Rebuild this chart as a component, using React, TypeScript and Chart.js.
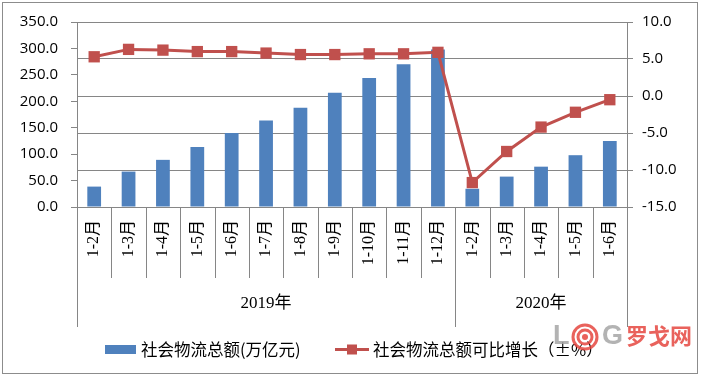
import React, { useEffect, useRef } from "react";
import { Chart, registerables } from "chart.js";

Chart.register(...registerables);

const categories = [
  "1-2月", "1-3月", "1-4月", "1-5月", "1-6月", "1-7月", "1-8月", "1-9月", "1-10月", "1-11月", "1-12月",
  "1-2月", "1-3月", "1-4月", "1-5月", "1-6月",
];
const yearLabels = ["2019年", "2020年"];
const yearCounts = [11, 5];
const totalValues = [38.6, 67.0, 89.2, 113.5, 140.1, 163.8, 188.0, 216.0, 244.0, 270.0, 298.0, 34.5, 57.5, 76.3, 98.0, 124.8];
const growthValues = [5.3, 6.3, 6.2, 6.0, 6.0, 5.8, 5.6, 5.6, 5.7, 5.7, 5.9, -11.7, -7.5, -4.2, -2.2, -0.5];
const seriesNames = ["社会物流总额(万亿元)", "社会物流总额可比增长（±%）"];

const BAR_COLOR = "#4F81BD";
const LINE_COLOR = "#C0504D";
const GRID_COLOR = "#868686";
const NUM_FONT = "'Open Sans', sans-serif";
const SERIF_FONT = "'Liberation Serif', 'Noto Sans CJK SC', serif";
const CJK_FONT = "'Noto Sans CJK SC', sans-serif";

const decorPlugin = {
  id: "decor",
  afterDraw(chart: any) {
    const ctx = chart.ctx;
    const x = chart.scales.x;
    const area = chart.chartArea;
    const n = categories.length;
    const half = (x.getPixelForTick(1) - x.getPixelForTick(0)) / 2;
    ctx.save();
    // category dividers
    ctx.strokeStyle = GRID_COLOR;
    ctx.lineWidth = 1;
    const groupEdges = new Set<number>();
    let acc = 0;
    groupEdges.add(0);
    for (const c of yearCounts) {
      acc += c;
      groupEdges.add(acc);
    }
    for (let i = 0; i <= n; i++) {
      const px = i < n ? x.getPixelForTick(i) - half : x.getPixelForTick(n - 1) + half;
      const xx = Math.round(px) + 0.5;
      const end = groupEdges.has(i) ? 327 : 278;
      ctx.beginPath();
      ctx.moveTo(xx, area.bottom);
      ctx.lineTo(xx, end);
      ctx.stroke();
    }
    // year labels
    ctx.fillStyle = "#000";
    ctx.font = "17px " + SERIF_FONT;
    ctx.textAlign = "center";
    ctx.textBaseline = "middle";
    let start = 0;
    yearLabels.forEach((lab, gi) => {
      const endIdx = start + yearCounts[gi] - 1;
      const cx = (x.getPixelForTick(start) - half + x.getPixelForTick(endIdx) + half) / 2;
      ctx.fillText(lab, cx, 304);
      start += yearCounts[gi];
    });
    // legend
    const ly = 349.5;
    ctx.fillStyle = BAR_COLOR;
    ctx.fillRect(105, 345, 31, 9);
    ctx.fillStyle = "#000";
    ctx.font = "16.5px " + CJK_FONT;
    ctx.textAlign = "left";
    ctx.fillText(seriesNames[0], 141, ly);
    ctx.strokeStyle = LINE_COLOR;
    ctx.lineWidth = 3;
    ctx.beginPath();
    ctx.moveTo(335, ly);
    ctx.lineTo(369, ly);
    ctx.stroke();
    ctx.fillStyle = LINE_COLOR;
    ctx.fillRect(347, ly - 5, 10, 10);
    ctx.fillStyle = "#000";
    ctx.fillText(seriesNames[1], 373, ly);
    // watermark
    ctx.globalAlpha = 0.85;
    ctx.fillStyle = "#A6A6A6";
    ctx.font = "bold 27px 'Liberation Sans', sans-serif";
    ctx.textBaseline = "middle";
    ctx.fillText("L", 553, 337);
    ctx.strokeStyle = "#E5473F";
    ctx.lineWidth = 3;
    for (const r of [12, 7]) {
      ctx.beginPath();
      ctx.arc(585, 337, r, 0, Math.PI * 2);
      ctx.stroke();
    }
    ctx.fillStyle = "#E5473F";
    ctx.beginPath();
    ctx.arc(585, 337, 3, 0, Math.PI * 2);
    ctx.fill();
    ctx.fillStyle = "#A6A6A6";
    ctx.fillText("G", 602, 337);
    ctx.fillStyle = "#E5473F";
    ctx.font = "bold 22px " + CJK_FONT;
    ctx.fillText("罗戈网", 626, 336);
    ctx.globalAlpha = 1;
    // outer border
    ctx.strokeStyle = "#8C8C8C";
    ctx.lineWidth = 1;
    ctx.strokeRect(2.5, 2.5, 695, 371);
    ctx.restore();
  },
};

export default function App() {
  const ref = useRef<HTMLCanvasElement | null>(null);
  useEffect(() => {
    document.body.style.margin = "0";
    const canvas = ref.current;
    if (!canvas) return;
    const chart = new Chart(canvas, {
      type: "bar",
      data: {
        labels: categories,
        datasets: [
          {
            type: "line",
            label: seriesNames[1],
            data: growthValues,
            yAxisID: "y1",
            borderColor: LINE_COLOR,
            backgroundColor: LINE_COLOR,
            borderWidth: 3,
            pointStyle: "rect",
            pointRadius: 8,
            pointBorderWidth: 0,
            pointBackgroundColor: LINE_COLOR,
            order: 0,
          } as any,
          {
            type: "bar",
            label: seriesNames[0],
            data: totalValues,
            yAxisID: "y",
            backgroundColor: BAR_COLOR,
            barPercentage: 0.8,
            categoryPercentage: 0.5,
            order: 1,
          },
        ],
      },
      options: {
        animation: false,
        responsive: false,
        maintainAspectRatio: false,
        devicePixelRatio: 1,
        layout: { padding: { top: 19, left: 0, right: 0, bottom: 0 } },
        plugins: { legend: { display: false }, tooltip: { enabled: false } },
        scales: {
          x: {
            type: "category",
            offset: true,
            grid: { display: false, drawTicks: false },
            border: { display: true, color: GRID_COLOR, width: 1 },
            ticks: {
              autoSkip: false,
              minRotation: 90,
              maxRotation: 90,
              padding: 13,
              color: "#000",
              font: { family: SERIF_FONT, size: 16 },
            },
            afterFit: (s: any) => {
              s.height = 169;
            },
          },
          y: {
            position: "left",
            min: 0,
            max: 350,
            ticks: {
              stepSize: 50,
              color: "#000",
              padding: 13,
              font: { family: NUM_FONT, size: 15 },
              callback: (v: any) => Number(v).toFixed(1),
            },
            grid: { drawOnChartArea: false, tickLength: 6, color: GRID_COLOR },
            border: { display: true, color: GRID_COLOR, width: 1 },
            afterFit: (s: any) => {
              s.width = 77;
            },
          },
          y1: {
            position: "right",
            min: -15,
            max: 10,
            ticks: {
              stepSize: 5,
              color: "#000",
              padding: 9,
              font: { family: NUM_FONT, size: 15 },
              callback: (v: any) => Number(v).toFixed(1),
            },
            grid: { drawOnChartArea: true, tickLength: 6, color: GRID_COLOR },
            border: { display: true, color: GRID_COLOR, width: 1 },
            afterFit: (s: any) => {
              s.width = 74;
            },
          },
        },
      },
      plugins: [decorPlugin],
    });
    return () => chart.destroy();
  }, []);
  return <canvas ref={ref} width={701} height={376} style={{ display: "block" }} />;
}
